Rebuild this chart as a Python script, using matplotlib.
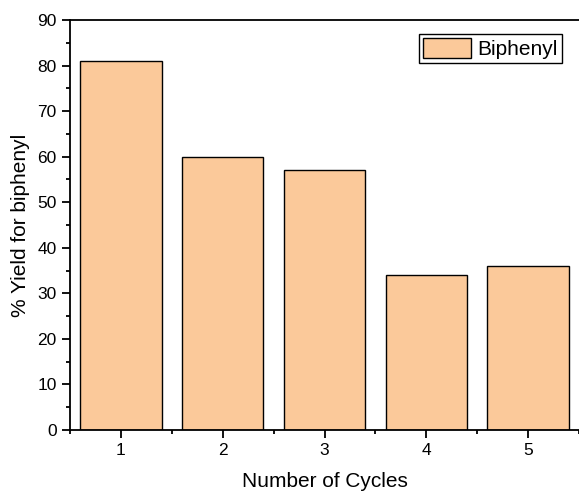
import matplotlib.pyplot as plt
from matplotlib.ticker import MultipleLocator

plt.rcParams['font.family'] = ['Liberation Sans', 'DejaVu Sans']

cycles = [1, 2, 3, 4, 5]
yields = [81, 60, 57, 34, 36]

fig = plt.figure(figsize=(5.79, 4.92), dpi=100)
ax = fig.add_axes([70 / 579, 1 - 430 / 492, 1 - 70 / 579, 410 / 492])

ax.bar(cycles, yields, width=0.8, color='#fbc99a', edgecolor='black',
       linewidth=1.0, label='Biphenyl')

ax.set_xlim(0.5, 5.5)
ax.set_ylim(0, 90)
ax.set_xticks(cycles)
ax.xaxis.set_minor_locator(MultipleLocator(0.5))
ax.yaxis.set_major_locator(MultipleLocator(10))
ax.yaxis.set_minor_locator(MultipleLocator(5))
ax.tick_params(which='both', direction='out', top=False, right=False,
               labelsize=12.5, width=1.3)
ax.tick_params(which='major', length=6)
ax.tick_params(which='minor', length=3)
for s in ax.spines.values():
    s.set_linewidth(1.3)
ax.spines['right'].set_visible(False)

ax.set_xlabel('Number of Cycles', fontsize=15, labelpad=10)
ax.set_ylabel('% Yield for biphenyl', fontsize=15, labelpad=5)

leg = ax.legend(loc='upper right', fontsize=15, fancybox=False,
                edgecolor='black', framealpha=1, borderpad=0.2,
                handlelength=2.3, handleheight=1.1, handletextpad=0.3,
                borderaxespad=0, bbox_to_anchor=(562 / 579, 1 - 34 / 492),
                bbox_transform=fig.transFigure)
leg.get_frame().set_linewidth(1.0)

fig.savefig('out.png', dpi=100)
